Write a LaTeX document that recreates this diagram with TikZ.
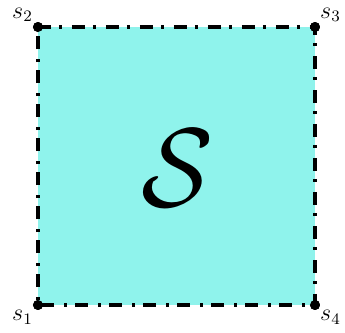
\documentclass[tikz,border=0pt]{standalone}
\usepackage{amsmath,amssymb}
\usetikzlibrary{positioning}
\definecolor{sqcyan}{RGB}{143,243,236}

\begin{document}
\begin{tikzpicture}[x=0.5pt,y=-0.5pt,
  corner/.style={circle,fill=black,inner sep=0pt,minimum size=5pt},
  every label/.style={font=\large,inner sep=0.5pt},
  edge/.style={line width=1.7pt,dash pattern=on 6.5pt off 4pt on 1.5pt off 5pt}]
\useasboundingbox (0,0) rectangle (345,333);
\node (s1) [corner,label={below left:$s_1$}] at (38,305) {};
\node (s2) [corner,label={above left:$s_2$}] at (38,27) {};
\node (s3) [corner,label={above right:$s_3$}] at (315,27) {};
\node (s4) [corner,label={below right:$s_4$}] at (315,305) {};
\fill[sqcyan] (s1.center) rectangle (s3.center);
\draw[edge] (s2.center) -- (s3.center) -- (s4.center) -- (s1.center) -- cycle;
\node (S) at (178,168) {\scalebox{5.3}[5.6]{$\mathcal{S}$}};
% dots on top of the border
\foreach \c in {s1,s2,s3,s4} \fill (\c) circle (2.5pt);
\end{tikzpicture}
\end{document}
